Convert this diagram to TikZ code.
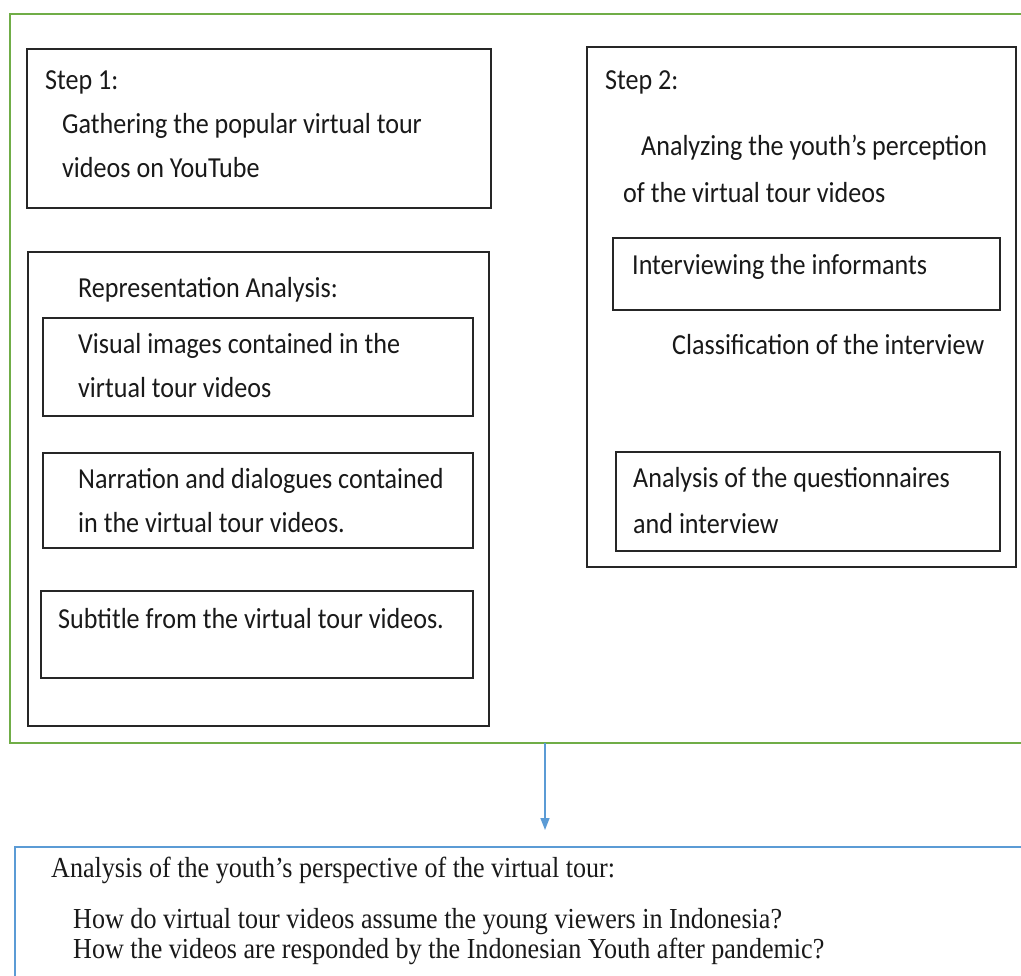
\documentclass[tikz,border=0pt]{standalone}
\usepackage{fontspec}
\setmainfont{Carlito}[FakeStretch=0.9]
\newfontfamily\timesfont{Liberation Serif}[FakeStretch=0.9]
\usetikzlibrary{
	arrows.meta,
	positioning,
}
\definecolor{framegreen}{HTML}{70AD47}
\definecolor{flowblue}{HTML}{5B9BD5}
\tikzset{
	box/.style={
		draw,
		rectangle,
		line width=1.4pt,
		black!85,
		inner sep=0pt,
		outer sep=0pt,
		anchor=north west,
	},
	txt/.style={
		inner sep=0pt,
		anchor=base west,
		align=left,
		text=black!90,
		font=\fontsize{29}{44}\selectfont,
	},
	serif txt/.style={
		txt,
		font=\timesfont\fontsize{29}{30}\selectfont,
	},
	flow/.style={
		draw=flowblue,
		line width=1.5pt,
		-{Triangle[length=12pt,width=9pt]},
		shorten >=17pt,
	},
}

\begin{document}
\begin{tikzpicture}[x=1pt,y=-1pt]
\clip (0,0) rectangle (1021,976);

\node[box, draw=framegreen, line width=1.6pt, minimum width=1030pt, minimum height=729pt] (frame) at (10,14) {};
\node[box, draw=flowblue, line width=1.6pt, minimum width=1030pt, minimum height=150pt] (result) at (15,847) {};

\foreach \n/\x/\y/\w/\h in {
	step1/27/49/464/159,%
	repr/28/252/461/474,%
	visual/43/318/430/98,%
	narration/43/453/430/95,%
	subtitle/41/591/432/87,%
	step2/587/47/429/520,%
	interview/613/238/387/72,%
	questionnaire/616/452/384/99%
}{
	\node[box, minimum width=\w pt, minimum height=\h pt] (\n) at (\x,\y) {};
}

% multi-line texts are placed by the baseline of their last line
\node[txt] (step1 title) at (45,90) {Step 1:};
\node[txt] (step1 text) at (62,178) {Gathering the popular virtual tour\\videos on YouTube};
\node[txt] (repr title) at (78,298) {Representation Analysis:};
\node[txt] (visual text) at (78,398) {Visual images contained in the\\virtual tour videos};
\node[txt] (narration text) at (78,532) {Narration and dialogues contained\\in the virtual tour videos.};
\node[txt] (subtitle text) at (58,628) {Subtitle from the virtual tour videos.};

\node[txt] (step2 title) at (605,90) {Step 2:};
\node[txt, font=\fontsize{29}{47}\selectfont] (step2 text) at (623,203) {\hspace*{18pt}Analyzing the youth’s perception\\of the virtual tour videos};
\node[txt] (interview text) at (632,275) {Interviewing the informants};
\node[txt] (classify text) at (672,355) {Classification of the interview};
\node[txt, font=\fontsize{29}{46}\selectfont] (questionnaire text) at (633,533) {Analysis of the questionnaires\\and interview};

\node[serif txt] (result title) at (51,877) {Analysis of the youth’s perspective of the virtual tour:};
\node[serif txt] (result text) at (73,958) {How do virtual tour videos assume the young viewers in Indonesia?\\How the videos are responded by the Indonesian Youth after pandemic?};

\coordinate (arrow top) at (545,743);
\draw[flow] (arrow top) -- (arrow top |- result.north);

\end{tikzpicture}
\end{document}
